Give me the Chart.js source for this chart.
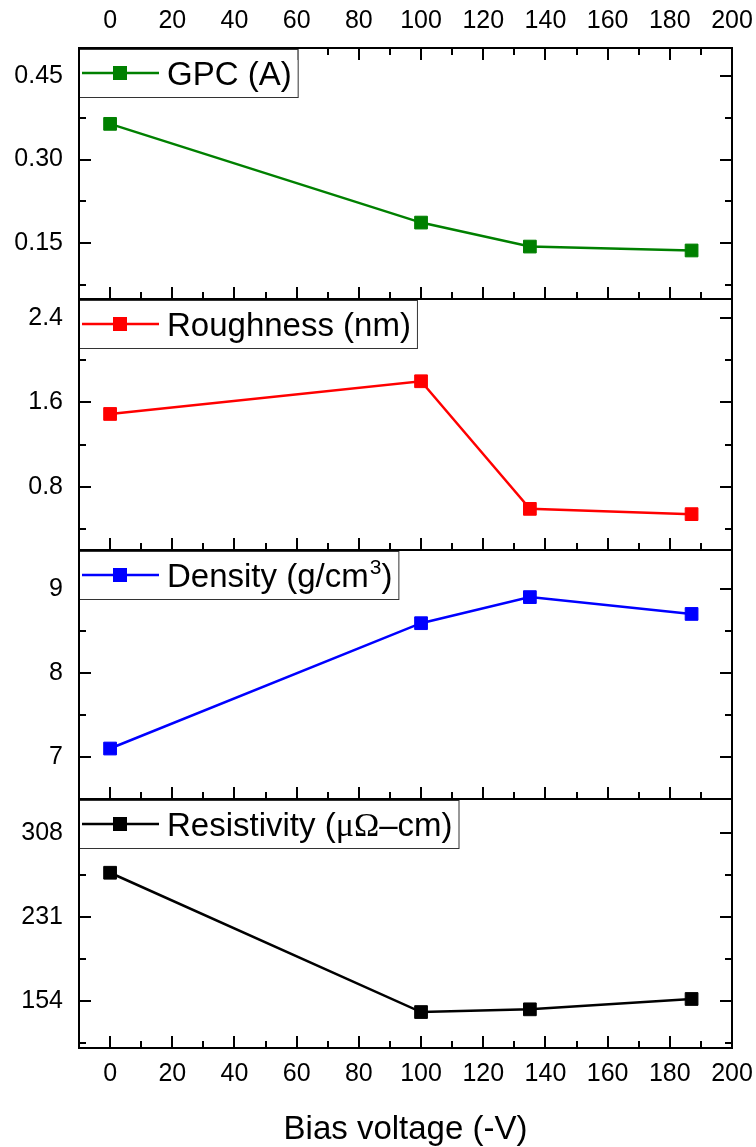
<!DOCTYPE html>
<html>
<head>
<meta charset="utf-8">
<script src="https://cdn.jsdelivr.net/npm/chart.js@4.4.1/dist/chart.umd.min.js"></script>
<style>
  body { margin: 0; background: #fff; }
  #wrap { position: relative; width: 756px; height: 1147px; }
  #wrap canvas { position: absolute; left: 0; }
</style>
</head>
<body>
<div id="wrap">
  <canvas id="gpcChart" width="756" height="299" style="top:0px"></canvas>
  <canvas id="roughChart" width="756" height="251" style="top:299px"></canvas>
  <canvas id="densChart" width="756" height="249" style="top:550px"></canvas>
  <canvas id="resChart" width="756" height="348" style="top:799px"></canvas>
</div>
<script>
// measurements vs bias voltage
const biasVoltage = [0, 100, 135, 187];
const gpcValues = [0.364, 0.187, 0.144, 0.137];
const roughnessValues = [1.49, 1.80, 0.59, 0.54];
const densityValues = [7.10, 8.59, 8.90, 8.70];
const resistivityValues = [271.5, 143.6, 146.1, 155.6];

const seriesNames = ['GPC (A)', 'Roughness (nm)', 'Density (g/cm³)', 'Resistivity (μΩ–cm)'];
const seriesColors = ['#008000', '#ff0000', '#0000ff', '#000000'];

// axis ticks
const xTicks = [0, 20, 40, 60, 80, 100, 120, 140, 160, 180, 200];
const gpcTicks = [0.15, 0.30, 0.45];
const gpcTickLabels = ['0.15', '0.30', '0.45'];
const roughTicks = [0.8, 1.6, 2.4];
const roughTickLabels = ['0.8', '1.6', '2.4'];
const densTicks = [7, 8, 9];
const densTickLabels = ['7', '8', '9'];
const resTicks = [154, 231, 308];
const resTickLabels = ['154', '231', '308'];

const FONT = '"Liberation Sans", Arial, sans-serif';
const GREEK_FONT = '"Liberation Serif", "Times New Roman", serif';

// split legend text into runs: normal, greek (serif) and raised 3
function legendRuns(label) {
    const runs = [];
    for (const ch of label) {
        let kind = 'txt';
        let c = ch;
        if (ch === '³') { kind = 'sup'; c = '3'; }
        else if (ch === 'μ' || ch === 'Ω') kind = 'greek';
        const last = runs[runs.length - 1];
        if (last && last.kind === kind) last.text += c;
        else runs.push({ kind: kind, text: c });
    }
    return runs;
}

function runFont(kind) {
    if (kind === 'sup') return '21px ' + FONT;
    if (kind === 'greek') return '34px ' + GREEK_FONT;
    return '33px ' + FONT;
}

// inward ticks, legend box and frame for each panel
const panelFrame = {
    id: 'panelFrame',
    afterDraw(chart, args, opts) {
        const ctx = chart.ctx;
        const { left, right, top, bottom } = chart.chartArea;
        const xs = chart.scales.x, ys = chart.scales.y;
        ctx.save();
        ctx.strokeStyle = '#000';
        ctx.lineWidth = 2;
        ctx.beginPath();
        // x ticks: majors + minors halfway
        const xMinor = xTicks.map(v => v - 10);
        const xMarks = xTicks.map(v => [v, 12]).concat(xMinor.map(v => [v, 7]));
        xMarks.forEach(([v, len]) => {
            if (v < xs.min || v > xs.max) return;
            const px = Math.round(xs.getPixelForValue(v));
            ctx.moveTo(px, bottom);
            ctx.lineTo(px, bottom - len);
            if (opts.topTicks) {
                ctx.moveTo(px, top);
                ctx.lineTo(px, top + len);
            }
        });
        // y ticks on both sides
        const yt = opts.ticks;
        const step = yt[1] - yt[0];
        const yMarks = yt.map(v => [v, 12]);
        yt.forEach(v => { yMarks.push([v - step / 2, 7]); });
        yMarks.push([yt[yt.length - 1] + step / 2, 7]);
        yMarks.forEach(([v, len]) => {
            if (v < ys.min || v > ys.max) return;
            const py = Math.round(ys.getPixelForValue(v));
            ctx.moveTo(left, py);
            ctx.lineTo(left + len, py);
            ctx.moveTo(right, py);
            ctx.lineTo(right - len, py);
        });
        ctx.stroke();

        // legend box
        const ds = chart.data.datasets[0];
        const runs = legendRuns(ds.label);
        let textW = 0;
        runs.forEach(r => {
            ctx.font = runFont(r.kind);
            r.w = ctx.measureText(r.text).width + (r.kind === 'sup' ? 1 : 0);
            textW += r.w;
        });
        const bx = left, by = top + 1, bw = 88 + textW + 6, bh = 48;
        ctx.fillStyle = '#fff';
        ctx.fillRect(bx, by, bw, bh);
        ctx.lineWidth = 1;
        ctx.strokeStyle = '#333';
        ctx.strokeRect(bx + 0.5, by + 0.5, bw, bh);
        const cy = by + bh / 2;
        ctx.strokeStyle = ds.borderColor;
        ctx.lineWidth = 2.5;
        ctx.beginPath();
        ctx.moveTo(bx + 3, cy);
        ctx.lineTo(bx + 80, cy);
        ctx.stroke();
        ctx.fillStyle = ds.borderColor;
        ctx.fillRect(bx + 41 - 7, cy - 7, 14, 14);
        ctx.fillStyle = '#000';
        ctx.textBaseline = 'alphabetic';
        ctx.textAlign = 'left';
        let tx = bx + 88;
        const base = cy + 12;
        runs.forEach(r => {
            ctx.font = runFont(r.kind);
            if (r.kind === 'sup') ctx.fillText(r.text, tx + 1, base - 13);
            else ctx.fillText(r.text, tx, base);
            tx += r.w;
        });

        // frame
        ctx.strokeStyle = '#000';
        ctx.lineWidth = 2;
        ctx.strokeRect(left, top, right - left, bottom - top);
        ctx.restore();
    }
};

function buildPanel(canvasId, idx, values, yMin, yMax, ticks, tickLabels, xAxis) {
    const ctx = document.getElementById(canvasId).getContext('2d');
    return new Chart(ctx, {
        type: 'line',
        data: {
            datasets: [{
                label: seriesNames[idx],
                data: biasVoltage.map((x, i) => ({ x: x, y: values[i] })),
                borderColor: seriesColors[idx],
                backgroundColor: seriesColors[idx],
                borderWidth: 2.5,
                pointStyle: 'rect',
                pointRadius: 9,
                pointBorderWidth: 1,
                tension: 0
            }]
        },
        options: {
            responsive: false,
            animation: false,
            devicePixelRatio: 1,
            layout: { autoPadding: false, padding: { left: 0, right: 24, top: 0, bottom: 0 } },
            plugins: {
                legend: { display: false },
                tooltip: { enabled: false },
                panelFrame: { ticks: ticks, topTicks: xAxis.position === 'top' }
            },
            scales: {
                x: {
                    type: 'linear',
                    position: xAxis.position,
                    display: xAxis.show,
                    min: -10,
                    max: 200,
                    afterBuildTicks: s => { s.ticks = xTicks.map(v => ({ value: v })); },
                    afterFit: s => {
                        s.height = xAxis.height;
                        s.paddingLeft = 0;
                        s.paddingRight = 0;
                    },
                    grid: { display: false, drawTicks: false },
                    border: { display: false },
                    ticks: {
                        color: '#000',
                        font: { family: FONT, size: 25 },
                        padding: xAxis.pad,
                        maxRotation: 0,
                        autoSkip: false
                    },
                    title: {
                        display: !!xAxis.title,
                        text: xAxis.title || '',
                        color: '#000',
                        font: { family: FONT, size: 33, lineHeight: 1 },
                        padding: { top: 0, bottom: 1 }
                    }
                },
                y: {
                    type: 'linear',
                    min: yMin,
                    max: yMax,
                    afterBuildTicks: s => { s.ticks = ticks.map(v => ({ value: v })); },
                    afterFit: s => {
                        s.width = 79;
                        s.paddingTop = 0;
                        s.paddingBottom = 0;
                    },
                    grid: { display: false, drawTicks: false },
                    border: { display: false },
                    ticks: {
                        color: '#000',
                        font: { family: FONT, size: 25 },
                        padding: 16,
                        callback: (v, i) => tickLabels[i]
                    }
                }
            }
        },
        plugins: [panelFrame]
    });
}

buildPanel('gpcChart', 0, gpcValues, 0.05, 0.5, gpcTicks, gpcTickLabels,
    { position: 'top', show: true, height: 48, pad: 12 });
buildPanel('roughChart', 1, roughnessValues, 0.2, 2.58, roughTicks, roughTickLabels,
    { position: 'bottom', show: false, height: 0, pad: 0 });
buildPanel('densChart', 2, densityValues, 6.5, 9.46, densTicks, densTickLabels,
    { position: 'bottom', show: false, height: 0, pad: 0 });
buildPanel('resChart', 3, resistivityValues, 110.6, 339.2, resTicks, resTickLabels,
    { position: 'bottom', show: true, height: 99, pad: 11, title: 'Bias voltage (-V)' });
</script>
</body>
</html>
